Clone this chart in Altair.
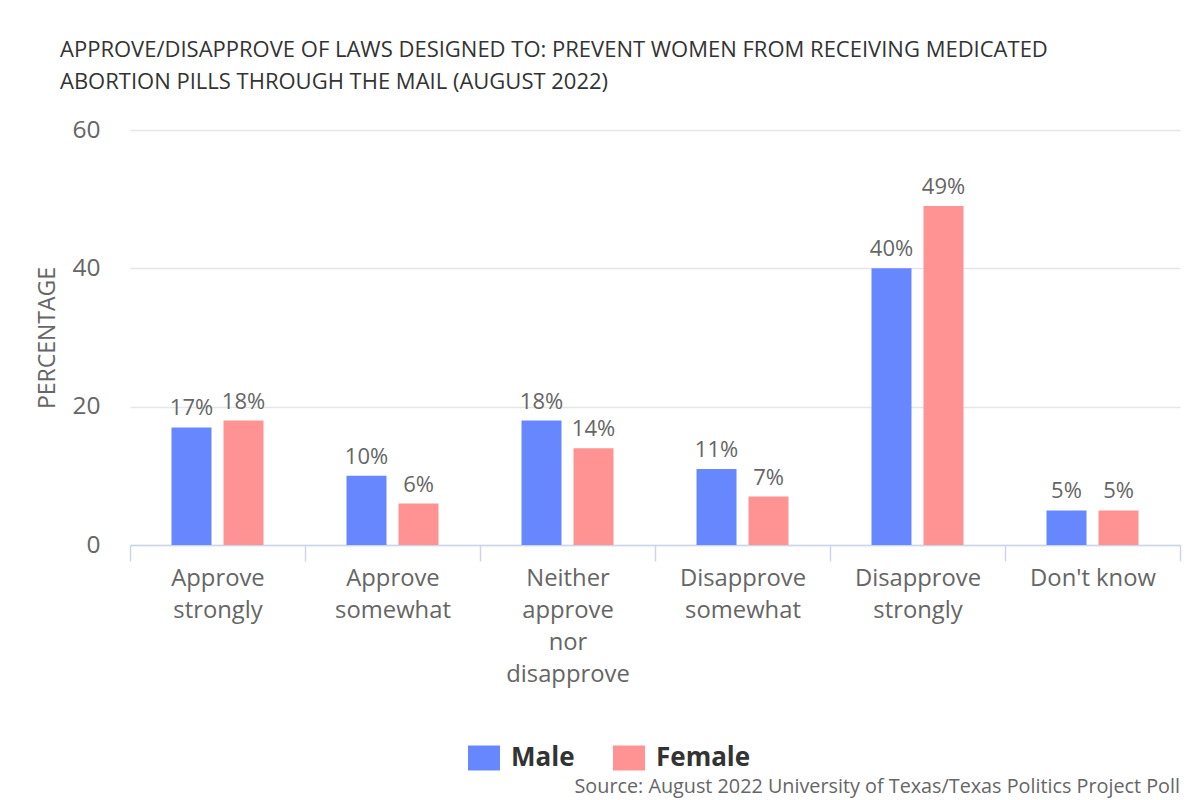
import json
import altair as alt
import pandas as pd

categories = ["Approve strongly", "Approve somewhat", "Neither approve nor disapprove",
              "Disapprove somewhat", "Disapprove strongly", "Don't know"]
label_lines = [["Approve", "strongly"], ["Approve", "somewhat"],
               ["Neither", "approve", "nor", "disapprove"],
               ["Disapprove", "somewhat"], ["Disapprove", "strongly"], ["Don't know"]]
male = [17, 10, 18, 11, 40, 5]
female = [18, 6, 14, 7, 49, 5]
groups = ["Male", "Female"]
colors = ["#6687ff", "#ff9393"]
y_ticks = [0, 20, 40, 60]
title_lines = ["APPROVE/DISAPPROVE OF LAWS DESIGNED TO: PREVENT WOMEN FROM RECEIVING MEDICATED",
               "ABORTION PILLS THROUGH THE MAIL (AUGUST 2022)"]
source_text = "Source: August 2022 University of Texas/Texas Politics Project Poll"

rows = []
for c, m, f in zip(categories, male, female):
    rows.append({"cat": c, "group": "Male", "value": m})
    rows.append({"cat": c, "group": "Female", "value": f})
df = pd.DataFrame(rows)

FONT = "Open Sans"
mapping = {c: l for c, l in zip(categories, label_lines)}
label_expr = json.dumps(mapping) + "[datum.value]"

x_enc = alt.X("cat:N", sort=categories, title=None,
              scale=alt.Scale(paddingInner=0, paddingOuter=0),
              axis=alt.Axis(labelExpr=label_expr, labelAngle=0, labelFont=FONT,
                            labelFontSize=23.8, labelColor="#666666", labelLineHeight=32,
                            labelPadding=5, tickBand="extent", tickSize=16,
                            tickColor="#ccd6eb", domainColor="#ccd6eb", domainWidth=1.5,
                            tickWidth=1.5, grid=False, labelLimit=300))
xoff = alt.XOffset("group:N", sort=groups,
                   scale=alt.Scale(paddingInner=0.2308, paddingOuter=0.798))
y_enc = alt.Y("value:Q", title="PERCENTAGE",
              scale=alt.Scale(domain=[0, 60], nice=False),
              axis=alt.Axis(values=y_ticks, labelFont=FONT, labelFontSize=24.5,
                            labelColor="#666666", labelPadding=30, ticks=False, domain=False,
                            gridColor="#e6e6e6", gridWidth=1.5, titleFont=FONT,
                            titleFontSize=23, titleFontWeight="normal", titleColor="#666666",
                            titlePadding=12))
color_enc = alt.Color("group:N", sort=groups,
                      scale=alt.Scale(domain=groups, range=colors),
                      legend=alt.Legend(orient="none", legendX=338, legendY=612,
                                        direction="horizontal", title=None,
                                        symbolType="M-1,-0.78H1V0.78H-1Z", symbolSize=1024,
                                        symbolStrokeWidth=0, symbolOpacity=1,
                                        labelFont=FONT, labelFontSize=26,
                                        labelFontWeight="bold", labelColor="#333333",
                                        labelOffset=11, columnPadding=38, padding=0))

base = alt.Chart(df)
bars = base.mark_bar(width=40).encode(x=x_enc, xOffset=xoff, y=y_enc, color=color_enc)
labels = base.transform_calculate(lbl="datum.value + '%'").mark_text(
    dy=-7, baseline="bottom", font=FONT, fontSize=22, color="#666666"
).encode(x=alt.X("cat:N", sort=categories), xOffset=alt.XOffset("group:N", sort=groups),
         y="value:Q", text="lbl:N")
src = alt.Chart(pd.DataFrame({"t": [source_text]})).mark_text(
    align="right", baseline="alphabetic", font=FONT, fontSize=19.8, color="#666666"
).encode(text="t:N", x=alt.value(1050), y=alt.value(663))

chart = alt.layer(bars, labels, src).properties(
    width=1050, height=415,
    autosize="none",
    padding={"left": 122, "top": 122, "right": 12, "bottom": 262},
    title=alt.TitleParams(title_lines, anchor="start", frame="group", dx=-70, font=FONT,
                          fontSize=22, fontWeight="normal", color="#333333", lineHeight=32,
                          offset=23),
).configure_view(stroke=None)

chart.save("out.html", embed_options={"renderer": "svg", "actions": False})
